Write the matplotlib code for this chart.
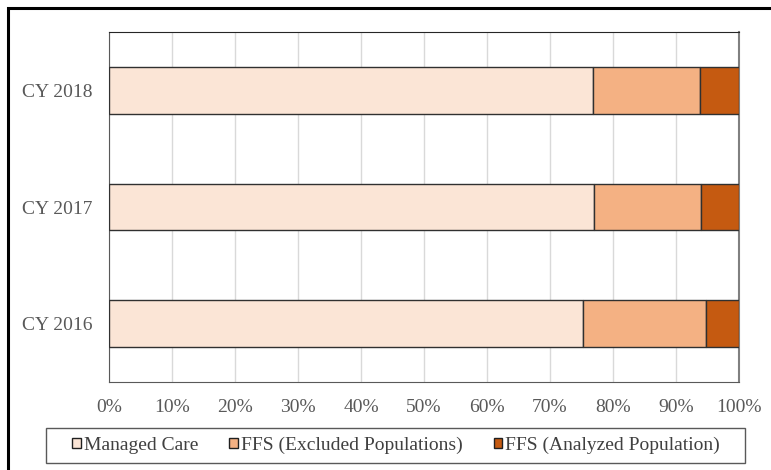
import numpy as np
import matplotlib
matplotlib.use('Agg')
import matplotlib.pyplot as plt
from matplotlib.patches import Rectangle

years = ['CY 2016', 'CY 2017', 'CY 2018']
managed_care = [75.2, 77.0, 76.8]
ffs_excluded = [19.5, 16.9, 17.0]
ffs_analyzed = [5.3, 6.1, 6.2]

series_names = ['Managed Care', 'FFS (Excluded Populations)', 'FFS (Analyzed Population)']
colors = ['#FBE5D6', '#F4B183', '#C55A11']

plt.rcParams['font.family'] = ['Liberation Serif', 'DejaVu Serif']

fig = plt.figure(figsize=(7.71, 4.70), dpi=100)
ax = fig.add_axes([109/771, 1-382/470, 630/771, 350/470])

y = np.arange(len(years))
left = np.zeros(len(years))
for vals, name, col in zip([managed_care, ffs_excluded, ffs_analyzed], series_names, colors):
    ax.barh(y, vals, left=left, height=0.4, color=col, edgecolor='#303030',
            linewidth=1.0, label=name, zorder=3)
    left = left + np.array(vals)

ax.set_xlim(0, 100)
ax.set_ylim(-0.5, 2.5)
ax.set_xticks(np.arange(0, 101, 10))
ax.set_xticklabels(['{}%'.format(v) for v in range(0, 101, 10)])
ax.set_yticks(y)
ax.set_yticklabels(years)
ax.tick_params(axis='both', length=0, labelsize=14, colors='#595959')
ax.tick_params(axis='x', pad=12)
ax.tick_params(axis='y', pad=12)
ax.xaxis.grid(True, color='#D9D9D9', linewidth=1.0, zorder=0)
ax.set_axisbelow(True)

ax.spines['left'].set_color('#595959')
ax.spines['bottom'].set_color('#595959')
ax.spines['right'].set_color('#808080')
ax.spines['right'].set_linewidth(1.5)
ax.spines['top'].set_color('#262626')

## legend without its own frame, the box is drawn by hand below
leg = fig.legend(loc='center', bbox_to_anchor=(396/771, 1-445.5/470), ncol=3,
                 fontsize=14, frameon=False,
                 handlelength=0.45, handleheight=0.45, handletextpad=0.15,
                 columnspacing=1.6, borderpad=0.35)
for h in leg.legend_handles:
    h.set_edgecolor('#202020')
for t in leg.get_texts():
    t.set_color('#404040')

fig.patches.append(Rectangle((46/771, 1-463/470), 699/771, 35/470,
                             transform=fig.transFigure, fill=False,
                             edgecolor='#595959', linewidth=1.0))

# outer frame of the picture
fig.patches.append(Rectangle((8/771, -0.2), 1.5, (470-8)/470 + 0.2,
                             transform=fig.transFigure, fill=False,
                             edgecolor='black', linewidth=2.2))

fig.savefig('out.png', dpi=100)
